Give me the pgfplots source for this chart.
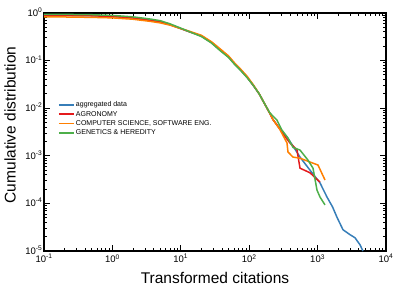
\documentclass[border=0pt]{standalone}
\usepackage{pgfplots}
\pgfplotsset{compat=1.18}
\usepackage{fontspec}
\setmainfont{Liberation Sans}
\definecolor{cblue}{HTML}{377EB8}
\definecolor{cred}{HTML}{E41A1C}
\definecolor{corange}{HTML}{FF7F00}
\definecolor{cgreen}{HTML}{4DAF4A}
\begin{document}
\begin{tikzpicture}
\path[use as bounding box] (-44pt,-38pt) rectangle (355pt,251pt);
\begin{axis}[
  scale only axis, width=342pt, height=238pt,
  xmode=log, ymode=log,
  xmin=0.1, xmax=10000, ymin=1e-5, ymax=1,
  xtick={0.1,1,10,100,1000,10000},
  xticklabels={10\textsuperscript{-1},10\textsuperscript{0},10\textsuperscript{1},10\textsuperscript{2},10\textsuperscript{3},10\textsuperscript{4}},
  ytick={1e-5,1e-4,1e-3,1e-2,1e-1,1},
  yticklabels={10\textsuperscript{-5},10\textsuperscript{-4},10\textsuperscript{-3},10\textsuperscript{-2},10\textsuperscript{-1},10\textsuperscript{0}},
  tick label style={font=\fontsize{9.5}{11}\selectfont},
  yticklabel style={inner sep=1.5pt, yshift=0.8pt},
  xticklabel style={inner sep=2pt, yshift=-1.2pt},
  label style={font=\fontsize{15.5}{18}\selectfont},
  xlabel={Transformed citations},
  ylabel={Cumulative distribution},
  xlabel style={at={(axis description cs:0.5,-0.113)}, anchor=center},
  ylabel style={at={(axis description cs:-0.099,0.53)}, anchor=center},
  axis line style={line width=1.2pt},
  every tick/.style={black, line width=0.9pt},
  major tick length=6pt, minor tick length=3.5pt,
  tick align=inside,
  legend style={font=\fontsize{7}{8}\selectfont, draw=none, fill=none,
    at={(axis description cs:0.032,0.643)}, anchor=north west,
    row sep=0pt, nodes={inner sep=1.15pt, text height=5.5pt, text depth=1.5pt}},
  legend cell align=left,
  legend image code/.code={\draw[#1, line width=1.7pt] (0pt,0pt) -- (15pt,0pt);},
]
\addplot[cblue, line width=1.5pt] coordinates {
(0.1,0.90) (0.2,0.895) (0.5,0.88) (1,0.85) (2,0.79) (3.5,0.71) (5,0.655) (7,0.57)
(10,0.47) (13.6,0.40) (20,0.33) (28,0.24) (37,0.17) (50,0.12) (60,0.088) (75,0.063)
(93,0.045) (115,0.03) (140,0.02) (170,0.012) (200,0.0078) (222,0.0058) (280,0.0037)
(357,0.0025) (450,0.0015) (553,9.4e-4) (774,5.0e-4) (1084,2.7e-4) (1371,1.36e-4)
(1650,8.5e-5) (1922,5.1e-5) (2350,2.8e-5) (2980,2.2e-5) (3520,1.9e-5) (4170,1.35e-5) (4600,1e-5)
};
\addlegendentry{aggregated data}
\addplot[cred, line width=1.5pt] coordinates {
(0.1,0.90) (0.2,0.89) (0.5,0.875) (1,0.845) (2,0.785) (3.5,0.70) (5,0.65) (7,0.565)
(10,0.47) (13.6,0.40) (20,0.33) (28,0.24) (37,0.17) (50,0.12) (60,0.088) (75,0.064)
(93,0.045) (115,0.03) (140,0.02) (170,0.012) (200,0.0078) (222,0.0058) (280,0.0037)
(330,0.0026) (395,0.00186) (500,0.00132) (553,5.5e-4) (774,4.4e-4) (1084,2.8e-4)
};
\addlegendentry{AGRONOMY}
\addplot[corange, line width=1.5pt] coordinates {
(0.1,0.83) (0.2,0.825) (0.5,0.81) (1,0.79) (2,0.74) (3.5,0.67) (5,0.62) (7,0.555)
(10,0.47) (13.6,0.41) (20,0.34) (28,0.25) (37,0.18) (50,0.125) (60,0.092) (75,0.066)
(93,0.047) (115,0.031) (140,0.02) (170,0.012) (200,0.0078) (222,0.0058) (280,0.0036)
(357,0.00186) (369,0.0012) (437,9.4e-4) (553,8.9e-4) (774,7.4e-4) (1013,6.4e-4) (1283,3.1e-4)
};
\addlegendentry{COMPUTER SCIENCE, SOFTWARE ENG.}
\addplot[cgreen, line width=1.5pt] coordinates {
(0.1,0.94) (0.2,0.935) (0.5,0.92) (1,0.89) (2,0.83) (3.5,0.75) (5,0.69) (7,0.59)
(10,0.48) (13.6,0.40) (20,0.32) (28,0.235) (37,0.165) (50,0.116) (60,0.086) (75,0.062)
(93,0.044) (115,0.03) (140,0.02) (170,0.012) (200,0.008) (255,0.0056) (300,0.0035)
(369,0.00235) (437,0.0015) (553,0.00132) (724,8.1e-4) (857,5.5e-4) (980,1.9e-4) (1084,1.36e-4) (1283,9.3e-5)
};
\addlegendentry{GENETICS \& HEREDITY}
\end{axis}
\end{tikzpicture}
\end{document}
